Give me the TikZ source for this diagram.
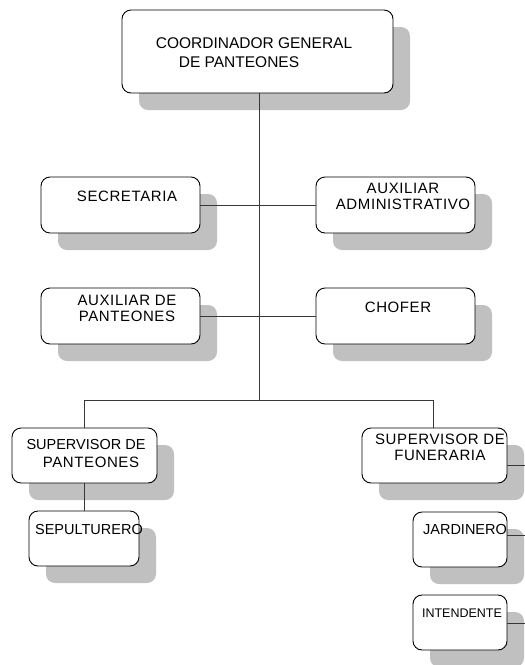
\documentclass[tikz,border=0pt]{standalone}
\usepackage{fontspec}
\setmainfont{Liberation Sans}
\newfontfamily\lblfont[LetterSpace=4]{Liberation Sans}
\usetikzlibrary{shadows}
\definecolor{shadowgray}{RGB}{192,192,192}
\definecolor{linegray}{RGB}{55,55,55}
\begin{document}
\begin{tikzpicture}[x=1pt,y=-1pt,
  box/.style={draw=black, fill=white, line width=0.9pt, rounded corners=9pt, inner sep=0pt,
    drop shadow={shadow xshift=17pt, shadow yshift=-17pt, fill=shadowgray, opacity=1}},
  lbl/.style={font=\lblfont\fontsize{15}{16}\selectfont, inner sep=0pt, align=center},
  toplbl/.style={font=\fontsize{15.5}{18}\selectfont, inner sep=0pt},
  conn/.style={draw=linegray, line width=0.9pt}]
\useasboundingbox[fill=white] (0,0) rectangle (525,665);

% boxes
\node[box, minimum width=271pt, minimum height=83pt] (top) at (257.5,51.5) {};
\node[box, minimum width=159pt, minimum height=56pt] (secr) at (120.5,205) {};
\node[box, minimum width=159pt, minimum height=56pt] (auxadm) at (395.5,205) {};
\node[box, minimum width=159pt, minimum height=56pt] (auxpan) at (120.5,316) {};
\node[box, minimum width=159pt, minimum height=56pt] (chofer) at (395.5,316) {};
\node[box, minimum width=145pt, minimum height=55pt] (suppan) at (84.5,455.5) {};
\node[box, minimum width=110pt, minimum height=55pt] (sepul) at (84,538.5) {};
\node[box, minimum width=145pt, minimum height=55pt] (supfun) at (434.5,455.5) {};
\node[box, minimum width=94pt, minimum height=55pt] (jard) at (460,539.5) {};
\node[box, minimum width=94pt, minimum height=55pt] (inten) at (460,622.5) {};

% connector points
\coordinate (trunk) at (259,400);
\coordinate (lbr) at (84,400);
\coordinate (rbr) at (433,400);
\coordinate (e1) at (525,465);
\coordinate (e2) at (525,535);
\coordinate (e3) at (525,623);

% connectors
\draw[conn] (top.south -| trunk) -- (trunk);
\draw[conn] (lbr) -- (rbr);
\draw[conn] (lbr) -- (suppan.north -| lbr);
\draw[conn] (rbr) -- (supfun.north -| rbr);
\draw[conn] (secr.east) -- (auxadm.west);
\draw[conn] (auxpan.east) -- (chofer.west);
\draw[conn] (suppan.south -| lbr) -- (sepul.north -| lbr);
\draw[conn] (supfun.east |- e1) -- (e1);
\draw[conn] (jard.east |- e2) -- (e2);
\draw[conn] (inten.east |- e3) -- (e3);

% labels
\node[toplbl] (ttop1) at (254,43) {COORDINADOR GENERAL};
\node[toplbl] (ttop2) at (239,62) {DE PANTEONES};
\node[lbl] (tsecr) at (127,196) {SECRETARIA};
\node[lbl] (tauxadm) at (403,196) {AUXILIAR\\ADMINISTRATIVO};
\node[lbl] (tauxpan) at (127,308) {AUXILIAR DE\\PANTEONES};
\node[lbl] (tchofer) at (398,307) {CHOFER};
\node[lbl, font=\fontsize{14.5}{16}\selectfont] (tsuppan1) at (86,445) {SUPERVISOR DE};
\node[lbl] (tsuppan2) at (91,462) {PANTEONES};
\node[lbl, font=\fontsize{14.5}{16}\selectfont] (tsepul) at (89,530) {SEPULTURERO};
\node[lbl] (tsupfun) at (440,447.5) {SUPERVISOR DE\\FUNERARIA};
\node[lbl, font=\fontsize{14.5}{16}\selectfont] (tjard) at (465,530) {JARDINERO};
\node[lbl, font=\fontsize{12.5}{14}\selectfont] (tinten) at (462,613) {INTENDENTE};
\end{tikzpicture}
\end{document}
